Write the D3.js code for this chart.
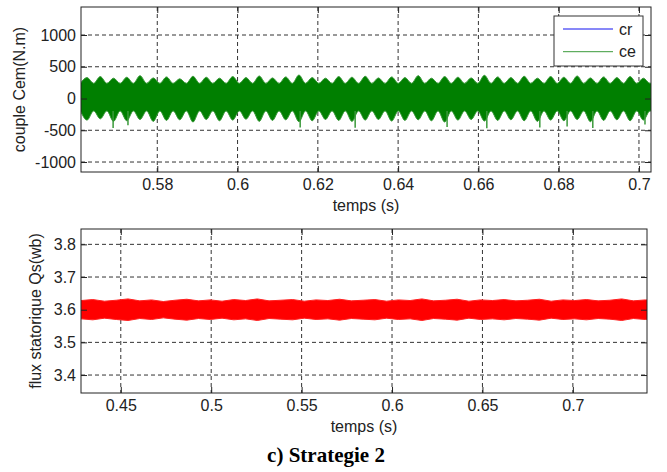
<!DOCTYPE html>
<html>
<head>
<meta charset="utf-8">
<script src="https://cdn.jsdelivr.net/npm/d3@7"></script>
<style>
  body { margin: 0; background: #fff; }
  svg text { font-family: "Liberation Sans", Arial, sans-serif; fill: #222; }
</style>
</head>
<body>
<div id="chart"></div>
<script>
// ---- top panel : couple (torque) ----
// ripple humps of ce, one every 0.0033 s
const ceHumpTimes = d3.range(44).map(i => 0.5625 + i * 0.0033);
const ceTopPeaks = [330, 345, 320, 335, 360, 325, 340, 310, 350, 335, 320, 345, 330, 355, 325, 340, 370, 330, 320, 345, 335, 350,
  325, 340, 330, 360, 320, 345, 335, 325, 365, 340, 330, 350, 320, 345, 335, 355, 325, 340, 330, 345, 320, 335];
const ceBotDips = [-340, -320, -360, -350, -330, -360, -345, -335, -370, -330, -350, -340, -325, -360, -345, -335, -365, -350,
  -330, -345, -360, -340, -330, -355, -345, -335, -350, -370, -340, -330, -355, -345, -335, -350, -360, -340, -350, -330,
  -365, -345, -335, -350, -340, -330];
const ceTopValley = 240;
const ceBotValley = -195;
const ceSpikeTimes = [0.5690, 0.5727, 0.6156, 0.6293, 0.6522, 0.6621, 0.6753, 0.6821, 0.6885, 0.7015];
const ceSpikeValues = [-465, -420, -455, -460, -450, -470, -455, -440, -465, -410];
const crTimes = [0.561, 0.703];
const crValues = [0, 0];
const torqueTicksX = [0.58, 0.6, 0.62, 0.64, 0.66, 0.68, 0.7];
const torqueTicksY = [-1000, -500, 0, 500, 1000];

// ---- bottom panel : flux statorique ----
const fluxTimes = d3.range(50).map(i => 0.428 + i * 0.0065);
const fluxTop = [3.628, 3.631, 3.626, 3.629, 3.633, 3.627, 3.630, 3.625, 3.629, 3.632, 3.627, 3.630, 3.626, 3.631, 3.628, 3.633,
  3.627, 3.629, 3.631, 3.626, 3.630, 3.628, 3.632, 3.627, 3.629, 3.631, 3.626, 3.630, 3.628, 3.633, 3.627, 3.629, 3.632, 3.626,
  3.630, 3.628, 3.631, 3.627, 3.629, 3.632, 3.626, 3.630, 3.628, 3.631, 3.627, 3.629, 3.633, 3.627, 3.630, 3.628];
const fluxBot = [3.572, 3.569, 3.574, 3.570, 3.567, 3.573, 3.570, 3.575, 3.571, 3.568, 3.573, 3.570, 3.574, 3.569, 3.572, 3.567,
  3.573, 3.571, 3.569, 3.574, 3.570, 3.572, 3.568, 3.573, 3.571, 3.569, 3.574, 3.570, 3.572, 3.567, 3.573, 3.571, 3.568, 3.574,
  3.570, 3.572, 3.569, 3.573, 3.571, 3.568, 3.574, 3.570, 3.572, 3.569, 3.573, 3.571, 3.567, 3.573, 3.570, 3.572];
const fluxTicksX = [0.45, 0.5, 0.55, 0.6, 0.65, 0.7];
const fluxTicksY = [3.4, 3.5, 3.6, 3.7, 3.8];

const W = 667, H = 472;
const fontSize = 16;

const svg = d3.select("#chart")
  .append("svg")
  .attr("width", W)
  .attr("height", H);

svg.append("rect").attr("width", W).attr("height", H).attr("fill", "#fff");

function makePanel(id, box, xDomain, yDomain, ticksX, ticksY, yLabel, yLabelX) {
  const x = d3.scaleLinear().domain(xDomain).range([box.left, box.right]);
  const y = d3.scaleLinear().domain(yDomain).range([box.bottom, box.top]);
  const g = svg.append("g");

  g.append("clipPath").attr("id", id)
    .append("rect")
    .attr("x", box.left).attr("y", box.top)
    .attr("width", box.right - box.left).attr("height", box.bottom - box.top);

  // grid
  g.selectAll(".vgrid").data(ticksX).enter().append("line")
    .attr("x1", d => x(d)).attr("x2", d => x(d))
    .attr("y1", box.top).attr("y2", box.bottom)
    .attr("stroke", "#333").attr("stroke-dasharray", "4,3");
  g.selectAll(".hgrid").data(ticksY).enter().append("line")
    .attr("y1", d => y(d)).attr("y2", d => y(d))
    .attr("x1", box.left).attr("x2", box.right)
    .attr("stroke", "#333").attr("stroke-dasharray", "4,3");

  const plot = g.append("g").attr("clip-path", `url(#${id})`);
  const front = svg.append("g");

  const fmt = d => String(d);
  const tk = 6;

  front.append("rect")
    .attr("x", box.left).attr("y", box.top)
    .attr("width", box.right - box.left).attr("height", box.bottom - box.top)
    .attr("fill", "none").attr("stroke", "#222");

  const styleAxis = sel => {
    sel.select(".domain").remove();
    sel.selectAll(".tick line").attr("stroke", "#222");
    sel.selectAll("text").attr("font-size", fontSize).attr("fill", "#222")
      .attr("font-family", "'Liberation Sans', Arial, sans-serif");
  };

  front.append("g").attr("transform", `translate(0,${box.bottom})`)
    .call(d3.axisBottom(x).tickValues(ticksX).tickFormat(fmt).tickSizeInner(-tk).tickSizeOuter(0).tickPadding(7))
    .call(styleAxis);
  front.append("g").attr("transform", `translate(0,${box.top})`)
    .call(d3.axisTop(x).tickValues(ticksX).tickFormat("").tickSizeInner(-tk).tickSizeOuter(0))
    .call(styleAxis);
  front.append("g").attr("transform", `translate(${box.left},0)`)
    .call(d3.axisLeft(y).tickValues(ticksY).tickFormat(fmt).tickSizeInner(-tk).tickSizeOuter(0).tickPadding(5))
    .call(styleAxis);
  front.append("g").attr("transform", `translate(${box.right},0)`)
    .call(d3.axisRight(y).tickValues(ticksY).tickFormat("").tickSizeInner(-tk).tickSizeOuter(0))
    .call(styleAxis);

  front.append("text")
    .attr("x", (box.left + box.right) / 2)
    .attr("y", box.bottom + 38.5)
    .attr("text-anchor", "middle")
    .attr("font-size", fontSize)
    .text("temps (s)");

  front.append("text")
    .attr("transform", `translate(${yLabelX},${(box.top + box.bottom) / 2}) rotate(-90)`)
    .attr("text-anchor", "middle")
    .attr("dy", "0.35em")
    .attr("font-size", fontSize)
    .text(yLabel);

  return { x, y, plot, front };
}

// ---- top panel ----
const torquePanel = makePanel("clipTop", { left: 81, right: 651, top: 7, bottom: 172 },
  [0.561, 0.703], [-1157, 1441], torqueTicksX, torqueTicksY, "couple Cem(N.m)", 19);

const half = 0.00165;
const ceBand = [];
ceHumpTimes.forEach((t, i) => {
  ceBand.push({ t: t - half, hi: ceTopValley, lo: ceBotValley });
  ceBand.push({ t: t, hi: ceTopPeaks[i], lo: ceBotDips[i] });
});

torquePanel.plot.append("path")
  .datum(crTimes.map((t, i) => [t, crValues[i]]))
  .attr("fill", "none").attr("stroke", "#0000ff").attr("stroke-width", 1)
  .attr("d", d3.line().x(d => torquePanel.x(d[0])).y(d => torquePanel.y(d[1])));

torquePanel.plot.append("path")
  .datum(ceBand)
  .attr("fill", "#007f00")
  .attr("stroke", "#3a993a")
  .attr("stroke-width", 1)
  .attr("d", d3.area().curve(d3.curveMonotoneX)
    .x(d => torquePanel.x(d.t)).y0(d => torquePanel.y(d.lo)).y1(d => torquePanel.y(d.hi)));

torquePanel.plot.selectAll(".spike")
  .data(ceSpikeTimes)
  .enter().append("line")
  .attr("x1", d => torquePanel.x(d)).attr("x2", d => torquePanel.x(d))
  .attr("y1", torquePanel.y(ceBotValley))
  .attr("y2", (d, i) => torquePanel.y(ceSpikeValues[i]))
  .attr("stroke", "#3a993a").attr("stroke-width", 1.5);

// legend
const leg = torquePanel.front.append("g");
leg.append("rect")
  .attr("x", 554).attr("y", 16).attr("width", 89).attr("height", 50)
  .attr("fill", "#fff").attr("stroke", "#333");
const legendItems = [{ name: "cr", color: "#1010f0" }, { name: "ce", color: "#3a9a3a" }];
legendItems.forEach((d, i) => {
  const ly = 29 + i * 22.7;
  leg.append("line").attr("x1", 563).attr("x2", 613).attr("y1", ly).attr("y2", ly)
    .attr("stroke", d.color).attr("stroke-width", 1);
  leg.append("text").attr("x", 619).attr("y", ly).attr("dy", "0.35em")
    .attr("font-size", fontSize).text(d.name);
});

// ---- bottom panel ----
const fluxPanel = makePanel("clipBot", { left: 81, right: 647, top: 229, bottom: 393 },
  [0.428, 0.741], [3.345, 3.847], fluxTicksX, fluxTicksY, "flux statorique Qs(wb)", 35);

fluxPanel.plot.append("path")
  .datum(fluxTimes.map((t, i) => ({ t, hi: fluxTop[i], lo: fluxBot[i] })))
  .attr("fill", "#ff0000")
  .attr("stroke", "#ff2020")
  .attr("stroke-width", 1)
  .attr("d", d3.area().x(d => fluxPanel.x(d.t)).y0(d => fluxPanel.y(d.lo)).y1(d => fluxPanel.y(d.hi)));

// caption
svg.append("text")
  .attr("x", 326)
  .attr("y", 462)
  .attr("text-anchor", "middle")
  .style("font-family", "'Liberation Serif', 'Times New Roman', serif")
  .style("font-weight", "bold")
  .style("font-size", "21px")
  .style("fill", "#000")
  .text("c) Strategie 2");
</script>
</body>
</html>
